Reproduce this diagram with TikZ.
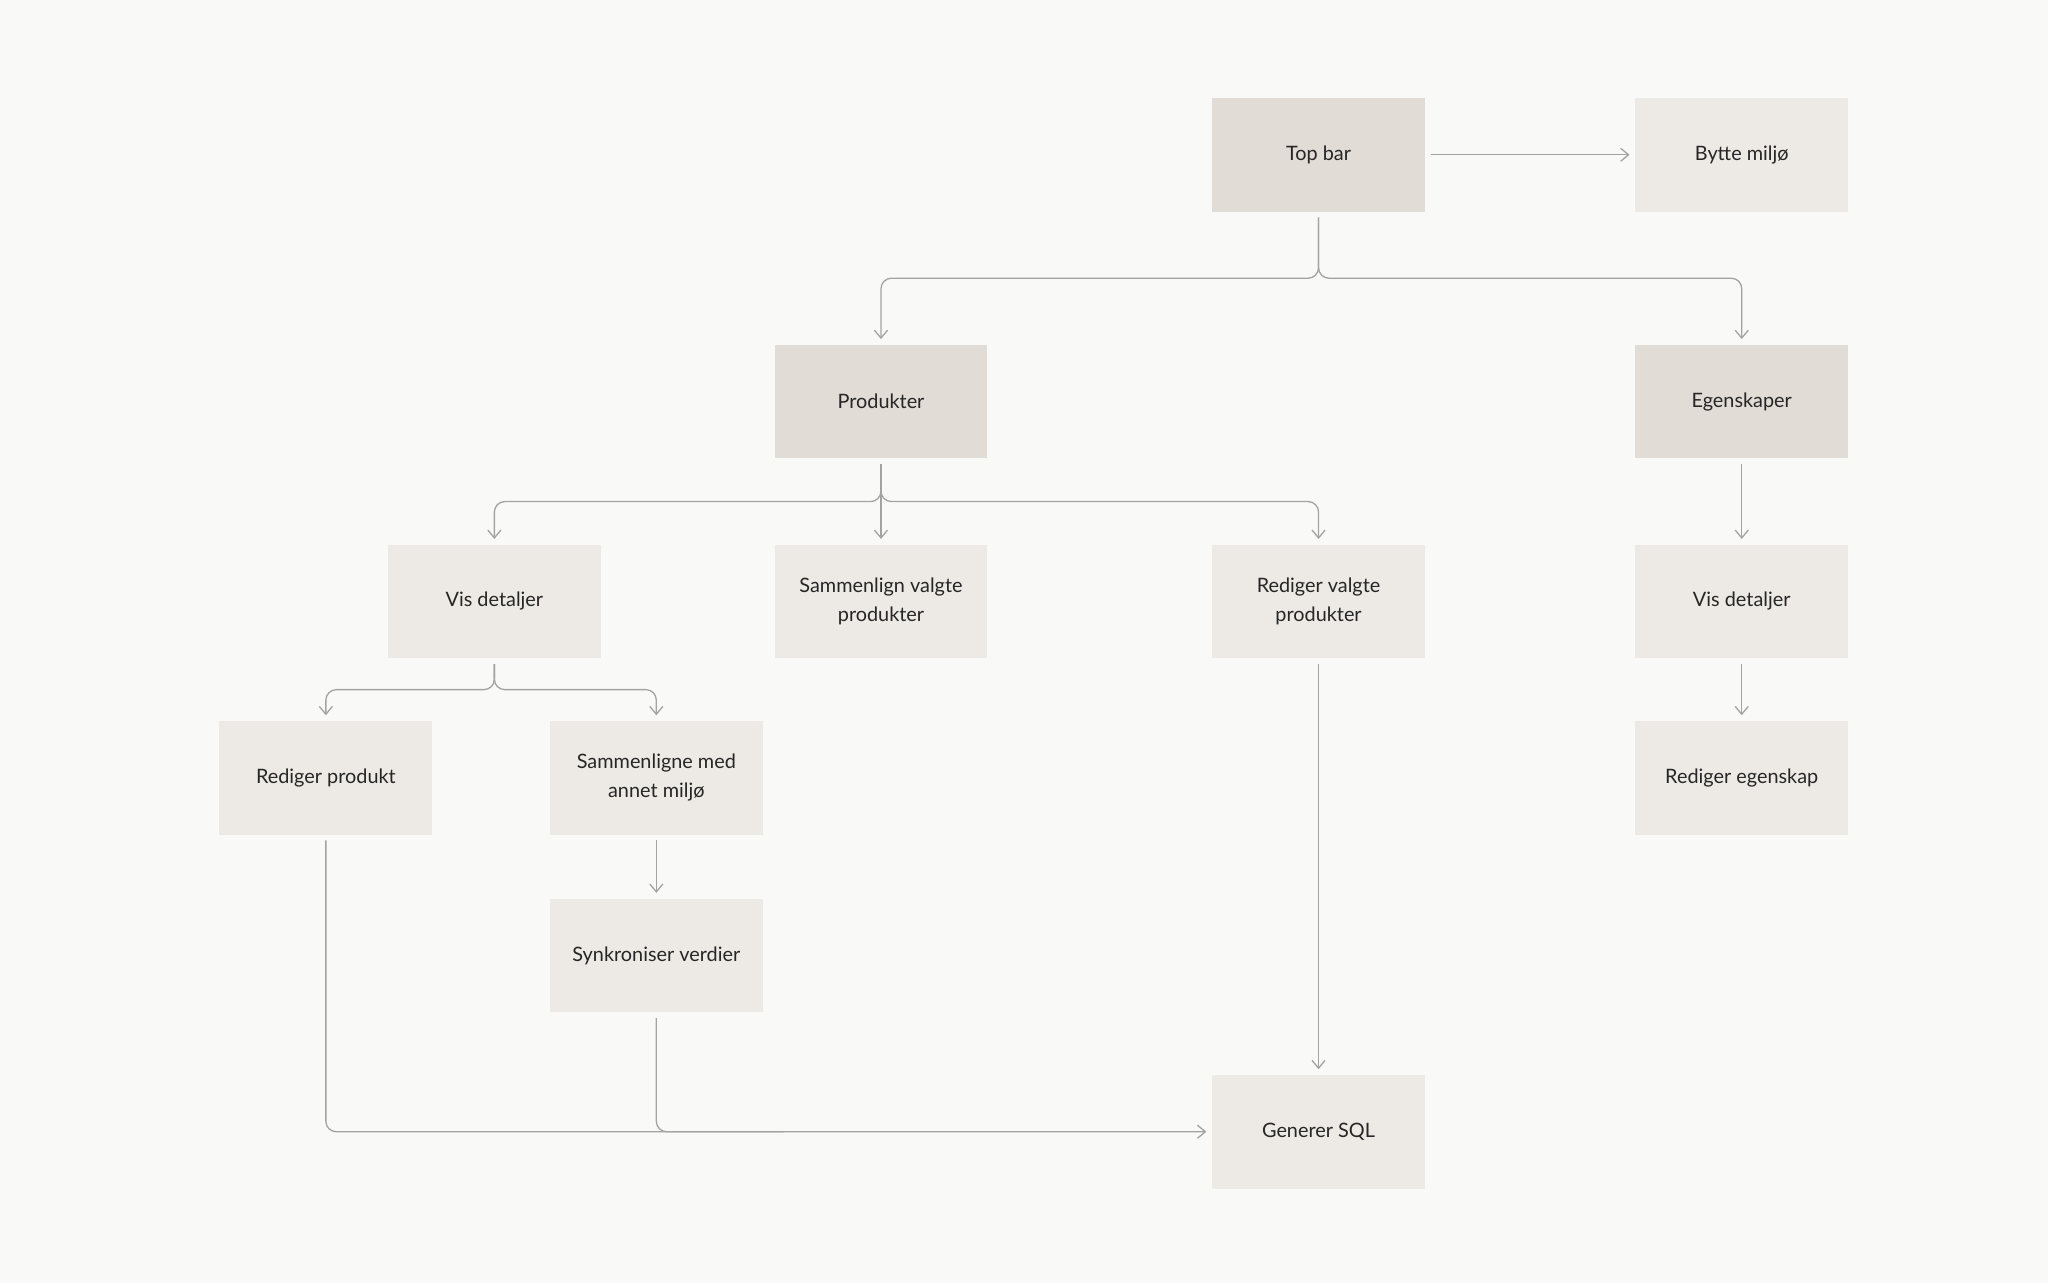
\documentclass[tikz,border=0pt]{standalone}
\usepackage{fontspec}
\setmainfont{Lato}
\usetikzlibrary{arrows.meta}
\definecolor{bg}{HTML}{F9F9F8}
\definecolor{dk}{HTML}{E1DCD5}
\definecolor{lt}{HTML}{EDEAE6}
\definecolor{ln}{HTML}{A3A3A3}
\begin{document}
\begin{tikzpicture}[x=0.5pt,y=-0.5pt,
 box/.style={draw=none,minimum width=81.5pt,minimum height=43.5pt,align=center,font=\fontsize{7.6}{11}\selectfont,text=black!85},
 d/.style={box,fill=dk}, l/.style={box,fill=lt},
 e/.style={draw=ln,line width=0.5pt,rounded corners=4pt,-{Straight Barb[length=3pt,width=5pt]},shorten <=2pt,shorten >=2pt},
 p/.style={draw=ln,line width=0.5pt,rounded corners=4pt,shorten <=2pt}]
\fill[bg] (0,0) rectangle (1568,982);
\node[d] (top) at (1009.5,118.5) {Top bar};
\node[l] (bytte) at (1333.5,118.5) {Bytte miljø};
\node[d] (prod) at (674.5,307.5) {Produkter};
\node[d] (egen) at (1333.5,307.5) {Egenskaper};
\node[l] (vis1) at (378.5,460.5) {Vis detaljer};
\node[l] (samm) at (674.5,460.5) {Sammenlign valgte\\produkter};
\node[l] (redv) at (1009.5,460.5) {Rediger valgte\\produkter};
\node[l] (vis2) at (1333.5,460.5) {Vis detaljer};
\node[l] (redp) at (249.5,595.5) {Rediger produkt};
\node[l] (sammm) at (502.5,595.5) {Sammenligne med\\annet miljø};
\node[l] (rede) at (1333.5,595.5) {Rediger egenskap};
\node[l] (synk) at (502.5,731.5) {Synkroniser verdier};
\node[l] (sql) at (1009.5,866.5) {Generer SQL};
\draw[e] (top) -- (bytte);
\draw[e] (top.south) -- (1009.5,213) -| (prod.north);
\draw[e] (top.south) -- (1009.5,213) -| (egen.north);
\draw[e] (prod.south) -- (674.5,384) -| (vis1.north);
\draw[e] (prod.south) -- (samm.north);
\draw[e] (prod.south) -- (674.5,384) -| (redv.north);
\draw[e] (egen) -- (vis2);
\draw[e] (vis2) -- (rede);
\draw[e] (vis1.south) -- (378.5,528) -| (redp.north);
\draw[e] (vis1.south) -- (378.5,528) -| (sammm.north);
\draw[e] (sammm) -- (synk);
\draw[e] (redv) -- (sql);
\draw[e] (redp.south) |- (sql.west);
\draw[p] (synk.south) -- (502.5,866.5) -- (600,866.5);
\end{tikzpicture}
\end{document}
